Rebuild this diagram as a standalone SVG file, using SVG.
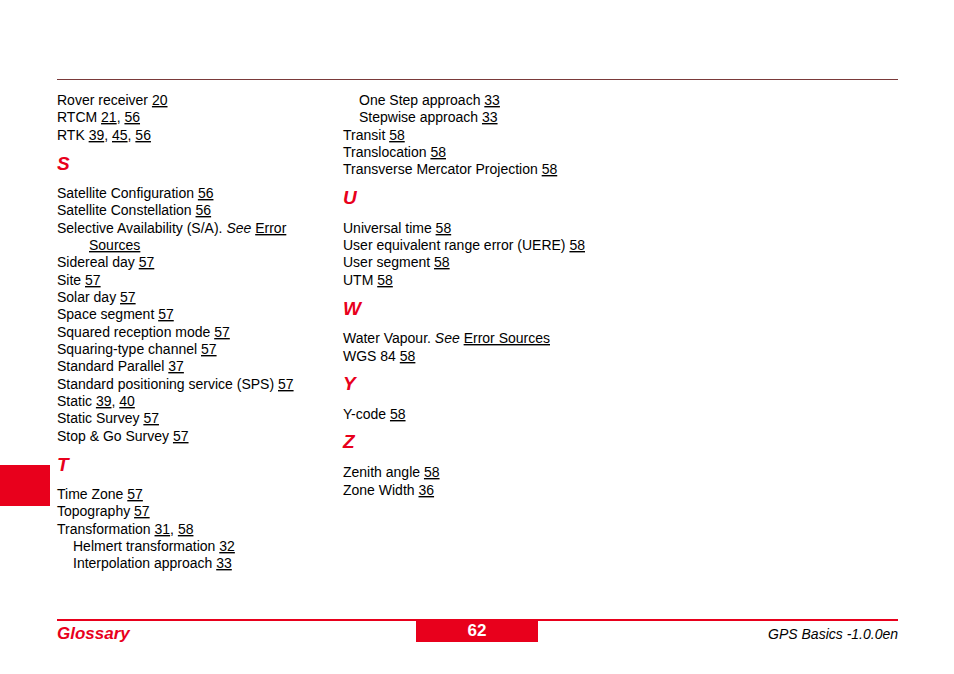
<svg xmlns="http://www.w3.org/2000/svg" width="954" height="674" viewBox="0 0 954 674">
<style>
text{font-family:"Liberation Sans",Arial,sans-serif;font-size:14px;fill:#000}
.u{text-decoration:underline}
.h{font-size:19px;font-weight:bold;font-style:italic;fill:#e8001c}
.i{font-style:italic}
</style>
<rect width="954" height="674" fill="#fff"/>
<line x1="57" y1="79.5" x2="898" y2="79.5" stroke="#7a3a3a" stroke-width="1"/>
<rect x="0" y="465" width="50" height="41" fill="#e8001c"/>
<line x1="57" y1="620" x2="898" y2="620" stroke="#e8001c" stroke-width="2"/>
<rect x="416" y="620" width="122" height="22" fill="#e8001c"/>
<text x="477" y="636" text-anchor="middle" style="font-size:17px;font-weight:bold;fill:#fff">62</text>
<text x="57" y="639" style="font-size:17px;font-weight:bold;font-style:italic;fill:#e8001c">Glossary</text>
<text x="898" y="639" text-anchor="end" style="font-size:14px;font-style:italic">GPS Basics -1.0.0en</text>
<g id="col1">
<text x="57" y="105">Rover receiver  <tspan class="u">20</tspan></text>
<text x="57" y="122">RTCM  <tspan class="u">21</tspan>,  <tspan class="u">56</tspan></text>
<text x="57" y="140">RTK  <tspan class="u">39</tspan>,  <tspan class="u">45</tspan>,  <tspan class="u">56</tspan></text>
<text x="57" y="170" class="h">S</text>
<text x="57" y="198">Satellite Configuration   <tspan class="u">56</tspan></text>
<text x="57" y="215">Satellite Constellation   <tspan class="u">56</tspan></text>
<text x="57" y="233">Selective Availability (S/A).  <tspan class="i">See</tspan> <tspan class="u">Error</tspan></text>
<text x="89" y="250" class="u">Sources</text>
<text x="57" y="267">Sidereal day  <tspan class="u">57</tspan></text>
<text x="57" y="285">Site  <tspan class="u">57</tspan></text>
<text x="57" y="302">Solar day  <tspan class="u">57</tspan></text>
<text x="57" y="319">Space segment   <tspan class="u">57</tspan></text>
<text x="57" y="337">Squared reception mode   <tspan class="u">57</tspan></text>
<text x="57" y="354">Squaring-type channel   <tspan class="u">57</tspan></text>
<text x="57" y="371">Standard Parallel   <tspan class="u">37</tspan></text>
<text x="57" y="389">Standard positioning service (SPS)   <tspan class="u">57</tspan></text>
<text x="57" y="406">Static  <tspan class="u">39</tspan>,  <tspan class="u">40</tspan></text>
<text x="57" y="423">Static Survey  <tspan class="u">57</tspan></text>
<text x="57" y="441">Stop &amp; Go Survey  <tspan class="u">57</tspan></text>
<text x="57" y="471" class="h">T</text>
<text x="57" y="499">Time Zone  <tspan class="u">57</tspan></text>
<text x="57" y="516">Topography  <tspan class="u">57</tspan></text>
<text x="57" y="534">Transformation   <tspan class="u">31</tspan>,  <tspan class="u">58</tspan></text>
<text x="73" y="551">Helmert transformation   <tspan class="u">32</tspan></text>
<text x="73" y="568">Interpolation approach   <tspan class="u">33</tspan></text>
</g>
<g id="col2">
<text x="359" y="105">One Step approach   <tspan class="u">33</tspan></text>
<text x="359" y="122">Stepwise approach   <tspan class="u">33</tspan></text>
<text x="343" y="140">Transit   <tspan class="u">58</tspan></text>
<text x="343" y="157">Translocation   <tspan class="u">58</tspan></text>
<text x="343" y="174">Transverse Mercator Projection   <tspan class="u">58</tspan></text>
<text x="343" y="204" class="h">U</text>
<text x="343" y="233">Universal time   <tspan class="u">58</tspan></text>
<text x="343" y="250">User equivalent range error (UERE)   <tspan class="u">58</tspan></text>
<text x="343" y="267">User segment   <tspan class="u">58</tspan></text>
<text x="343" y="285">UTM  <tspan class="u">58</tspan></text>
<text x="343" y="315" class="h">W</text>
<text x="343" y="343">Water Vapour.  <tspan class="i">See</tspan> <tspan class="u">Error Sources</tspan></text>
<text x="343" y="361">WGS 84  <tspan class="u">58</tspan></text>
<text x="343" y="390" class="h">Y</text>
<text x="343" y="419">Y-code   <tspan class="u">58</tspan></text>
<text x="343" y="448" class="h">Z</text>
<text x="343" y="477">Zenith angle   <tspan class="u">58</tspan></text>
<text x="343" y="495">Zone Width   <tspan class="u">36</tspan></text>
</g>
</svg>
